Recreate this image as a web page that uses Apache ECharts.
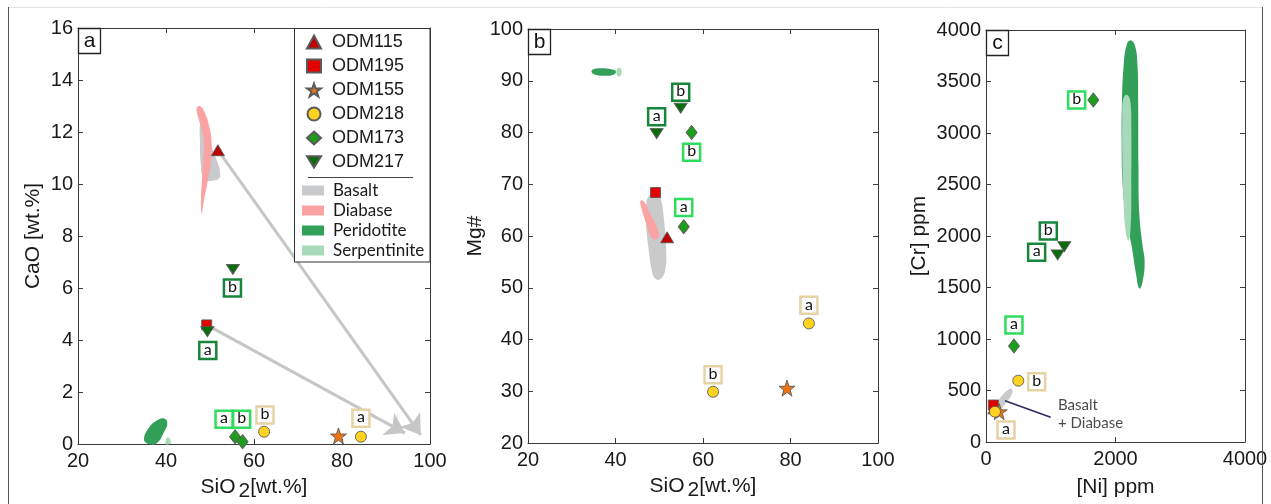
<!DOCTYPE html>
<html><head><meta charset="utf-8">
<script src="https://cdn.jsdelivr.net/npm/echarts@6/dist/echarts.min.js"></script>
<style>html,body{margin:0;padding:0;background:#fff}#c{width:1271px;height:504px}</style>
</head><body><div id="c"></div><script>
// ---------------- Panel a : SiO2 vs CaO ----------------
const a_ODM115 = [[51.8, 11.3]];
const a_ODM195 = [[49.25, 4.58]];
const a_ODM155 = [[79.2, 0.31]];
const a_ODM218 = [[62.3, 0.47], [84.3, 0.28]];
const a_ODM173 = [[55.7, 0.28], [57.4, 0.09]];
const a_ODM217 = [[49.4, 4.32], [55.2, 6.72]];
const a_tag217 = [[49.5, 3.6, 'a'], [55.1, 6.0, 'b']];
const a_tag173 = [[53.2, 0.95, 'a'], [57.2, 0.95, 'b']];
const a_tag218 = [[84.3, 0.99, 'a'], [62.5, 1.12, 'b']];
const a_arrows = [[[51.8, 11.3], [97.9, 0.35]], [[49.25, 4.58], [94.3, 0.42]]];
const a_basalt = [[47.88,12.4],[48.86,12.33],[50.0,11.69],[50.76,11.24],[51.67,10.86],[52.27,10.47],[52.1,10.22],[50.76,10.13],[49.25,10.13],[48.33,10.28],[47.88,10.8],[47.73,11.56]];
const a_diabase = [[46.97,12.91],[47.73,13.0],[48.86,12.72],[49.85,12.2],[50.38,11.56],[50.15,10.8],[49.39,10.03],[48.64,9.38],[48.11,8.87],[47.95,9.38],[48.18,10.15],[48.49,10.92],[48.64,11.56],[48.18,12.08],[47.35,12.53]];
const a_peridotite = [[35.0,0.18],[36.0,0.6],[37.9,0.9],[39.4,0.99],[40.3,0.82],[39.4,0.41],[37.9,0.03],[36.0,0.0]];
const a_serpentinite = [[39.9,0.0],[40.0,0.15],[40.4,0.25],[40.9,0.2],[41.1,0.05],[41.0,0.0]];

// ---------------- Panel b : SiO2 vs Mg# ----------------
const b_ODM115 = [[51.8, 59.75]];
const b_ODM195 = [[49.15, 68.4]];
const b_ODM155 = [[79.2, 30.6]];
const b_ODM218 = [[84.2, 43.1], [62.3, 29.9]];
const b_ODM173 = [[57.4, 80.0], [55.6, 61.8]];
const b_ODM217 = [[49.4, 79.8], [54.9, 84.7]];
const b_tag217 = [[49.4, 83.05, 'a'], [54.9, 87.8, 'b']];
const b_tag173 = [[55.6, 65.5, 'a'], [57.4, 76.2, 'b']];
const b_tag218 = [[84.2, 46.6, 'a'], [62.3, 33.2, 'b']];
const b_basalt = [[47.73,67.92],[49.41,68.56],[50.4,66.96],[51.09,63.09],[51.54,57.93],[51.38,53.43],[50.17,51.63],[49.03,51.82],[48.27,53.43],[47.5,57.93],[46.97,62.45],[46.97,65.66]];
const b_diabase = [[45.76,66.83],[46.51,66.63],[47.89,64.38],[49.26,62.13],[49.87,60.52],[49.56,59.49],[48.65,59.36],[47.73,60.52],[46.74,63.09],[45.83,65.66]];
const b_peridotite = [[34.5,91.8],[35.3,92.3],[37.0,92.4],[39.0,92.2],[40.1,91.8],[39.5,91.15],[37.5,90.95],[35.4,91.15]];
const b_serpentinite = [[40.2,91.7],[40.5,92.4],[41.0,92.5],[41.4,91.8],[41.1,90.9],[40.5,90.9]];

// ---------------- Panel c : Ni vs Cr ----------------
const c_ODM115 = [[128, 327]];
const c_ODM195 = [[113, 359]];
const c_ODM155 = [[205, 294]];
const c_ODM218 = [[139, 294], [499, 595]];
const c_ODM173 = [[432, 932], [1657, 3321]];
const c_ODM217 = [[1107, 1816], [1209, 1896]];
const c_tag217 = [[782, 1842, 'a'], [962, 2049, 'b']];
const c_tag173 = [[432, 1136, 'a'], [1400, 3321, 'b']];
const c_tag218 = [[309, 117, 'a'], [782, 585, 'b']];
const c_basalt = [[124,350],[216,427],[340,505],[401,515],[401,466],[293,369],[201,301],[139,301]];
const c_peridotite = [[2230,3900],[2300,3850],[2340,3650],[2350,3300],[2355,2700],[2370,2200],[2420,1900],[2450,1750],[2420,1560],[2370,1490],[2320,1620],[2250,1900],[2160,2200],[2110,2500],[2095,2900],[2100,3300],[2125,3650],[2170,3850]];
const c_serpentinite = [[2120,3330],[2180,3370],[2230,3300],[2245,3000],[2245,2500],[2235,2100],[2200,1960],[2155,2050],[2120,2400],[2105,2800],[2105,3150]];
const c_leader = [[293, 401], [999, 240]];
const c_note = [[1112, 267, 'Basalt\n+ Diabase']];

// ---------------- Axes / labels ----------------
const panelLetters = ['a', 'b', 'c'];
const xRanges = [[20, 100, 20], [20, 100, 20], [0, 4000, 2000]];
const yRanges = [[0, 16, 2], [20, 100, 10], [0, 4000, 500]];
const yNames = ['CaO [wt.%]', 'Mg#', '[Cr] ppm'];
const xNames = ['{t|SiO}{s|2}{t|[wt.%]}', '{t|SiO}{s|2}{t|[wt.%]}', '[Ni] ppm'];
const markerNames = ['ODM115', 'ODM195', 'ODM155', 'ODM218', 'ODM173', 'ODM217'];
const fieldNames = ['Basalt', 'Diabase', 'Peridotite', 'Serpentinite'];

const FONT = '"Liberation Sans", Arial, Helvetica, sans-serif';
const HUM = 'Lato, "Open Sans", sans-serif';
const AX = '#3a3a3a';
const TXT = '#1a1a1a';

const grids = [
  { left: 78, top: 28, width: 352, height: 416, outerBoundsMode: 'none', containLabel: false },
  { left: 528, top: 29, width: 350, height: 414, outerBoundsMode: 'none', containLabel: false },
  { left: 986, top: 30, width: 259, height: 412, outerBoundsMode: 'none', containLabel: false }
];
const yGaps = [34, 38, 56];
const xGaps = [33, 33, 35];

const STAR = 'path://M50,2 L61.8,36.2 L97.6,36.2 L68.6,57.3 L79.6,91.5 L50,70.4 L20.4,91.5 L31.4,57.3 L2.4,36.2 L38.2,36.2 Z';
const DOWN = 'path://M0,0 L26,0 L13,21 Z';
const markerStyle = {
  ODM115: { symbol: 'triangle', size: [13, 11], color: '#c00000' },
  ODM195: { symbol: 'rect', size: [10, 10], color: '#e40000' },
  ODM155: { symbol: STAR, size: [16, 16], color: '#ee7412' },
  ODM218: { symbol: 'circle', size: [11, 11], color: '#ffd31e' },
  ODM173: { symbol: 'diamond', size: [11, 14], color: '#1c9e1c' },
  ODM217: { symbol: DOWN, size: [13, 10], color: '#0b6c0b' }
};
const fieldColor = { Basalt: '#c9cacc', Diabase: '#fba3a3', Peridotite: '#33a05a', Serpentinite: '#a8d9b8' };
const tagColor = { t217: '#17853a', t173: '#2fdc5e', t218: '#e6d3a5' };

const xAxes = [], yAxes = [];
grids.forEach((g, i) => {
  const xr = xRanges[i], yr = yRanges[i];
  const common = {
    gridIndex: i, type: 'value', splitLine: { show: false },
    axisLine: { show: true, onZero: false, lineStyle: { color: AX, width: 1 } },
    axisTick: { show: true, inside: true, length: 5, lineStyle: { color: AX } }
  };
  xAxes.push(Object.assign({}, common, {
    min: xr[0], max: xr[1], interval: xr[2], position: 'bottom',
    name: xNames[i], nameLocation: 'middle', nameGap: xGaps[i],
    nameTextStyle: { fontSize: 21, fontFamily: FONT, color: TXT,
      rich: { t: { fontSize: 21, fontFamily: FONT, color: TXT, lineHeight: 21, verticalAlign: 'top' },
              s: { fontSize: 21, fontFamily: FONT, color: TXT, lineHeight: 25, padding: [0, 0, 0, 3], verticalAlign: 'bottom' } } },
    axisLabel: { color: TXT, fontSize: 20, fontFamily: FONT, margin: 7, formatter: v => String(v) }
  }));
  xAxes.push(Object.assign({}, common, {
    min: xr[0], max: xr[1], interval: xr[2], position: 'top', axisLabel: { show: false }
  }));
  yAxes.push(Object.assign({}, common, {
    min: yr[0], max: yr[1], interval: yr[2], position: 'left',
    name: yNames[i], nameLocation: 'middle', nameGap: yGaps[i], nameRotate: 90,
    nameTextStyle: { fontSize: 21, fontFamily: FONT, color: TXT },
    axisLabel: { color: TXT, fontSize: 20, fontFamily: FONT, margin: 5, formatter: v => String(v) }
  }));
  yAxes.push(Object.assign({}, common, {
    min: yr[0], max: yr[1], interval: yr[2], position: 'right', axisLabel: { show: false }
  }));
});

function fieldSeries(gi, name, pts) {
  return {
    type: 'custom', name: name, xAxisIndex: 2 * gi, yAxisIndex: 2 * gi, silent: true, z: 1,
    itemStyle: { color: fieldColor[name] },
    data: pts, encode: { x: 0, y: 1 },
    renderItem: (params, api) => {
      if (params.dataIndex !== 0) return null;
      return { type: 'polygon', shape: { points: pts.map(p => api.coord(p)), smooth: 0.45 },
               style: { fill: fieldColor[name] } };
    }
  };
}
function markerSeries(gi, name, data) {
  const s = markerStyle[name];
  return {
    type: 'scatter', name: name, xAxisIndex: 2 * gi, yAxisIndex: 2 * gi, z: 5,
    symbol: s.symbol, symbolSize: s.size, data: data,
    itemStyle: { color: s.color, borderColor: '#5a5a5a', borderWidth: 0.9, opacity: 1 }
  };
}
function tagSeries(gi, key, data) {
  return {
    type: 'scatter', name: 'tag' + key, xAxisIndex: 2 * gi, yAxisIndex: 2 * gi, z: 6, silent: true,
    symbol: 'rect', symbolSize: 17, data: data,
    itemStyle: { color: '#fff', borderColor: tagColor[key], borderWidth: 2.5, opacity: 1 },
    label: { show: true, position: 'inside', formatter: p => p.data[2],
             fontSize: 16, fontFamily: HUM, color: '#111', offset: [0, -1] }
  };
}

const panelSets = [
  { m: [a_ODM115, a_ODM195, a_ODM155, a_ODM218, a_ODM173, a_ODM217], f: [a_basalt, a_diabase, a_peridotite, a_serpentinite], t: [a_tag217, a_tag173, a_tag218] },
  { m: [b_ODM115, b_ODM195, b_ODM155, b_ODM218, b_ODM173, b_ODM217], f: [b_basalt, b_diabase, b_peridotite, b_serpentinite], t: [b_tag217, b_tag173, b_tag218] },
  { m: [c_ODM115, c_ODM195, c_ODM155, c_ODM218, c_ODM173, c_ODM217], f: [c_basalt, null, c_peridotite, c_serpentinite], t: [c_tag217, c_tag173, c_tag218] }
];

const series = [];
panelSets.forEach((ps, gi) => {
  ps.f.forEach((pts, k) => { if (pts) series.push(fieldSeries(gi, fieldNames[k], pts)); });
});
series.push({
  type: 'lines', name: 'arrows', coordinateSystem: 'cartesian2d', xAxisIndex: 0, yAxisIndex: 0,
  silent: true, z: 3, data: a_arrows.map(c => ({ coords: c })),
  symbol: ['none', 'arrow'], symbolSize: [16, 19],
  lineStyle: { color: '#c6c6c6', width: 3, opacity: 1 }
});
series.push({
  type: 'line', name: 'leader', xAxisIndex: 4, yAxisIndex: 4, data: c_leader, silent: true, z: 3,
  symbol: 'none', lineStyle: { color: '#2c2a5e', width: 1.5 }
});
series.push({
  type: 'scatter', name: 'note', xAxisIndex: 4, yAxisIndex: 4, data: c_note, silent: true, z: 3,
  symbolSize: 0,
  label: { show: true, position: 'right', distance: 0, formatter: p => p.data[2], align: 'left',
           fontSize: 15, lineHeight: 18, fontFamily: HUM, color: '#1a1a1a' }
});
panelSets.forEach((ps, gi) => {
  ps.m.forEach((d, k) => series.push(markerSeries(gi, markerNames[k], d)));
  series.push(tagSeries(gi, 't217', ps.t[0]));
  series.push(tagSeries(gi, 't173', ps.t[1]));
  series.push(tagSeries(gi, 't218', ps.t[2]));
});

const graphics = [
  { type: 'line', shape: { x1: 8, y1: 7.5, x2: 1262, y2: 7.5 }, style: { stroke: '#e4e4e4', lineWidth: 1 }, z: 1 },
  { type: 'line', shape: { x1: 8.5, y1: 7, x2: 8.5, y2: 504 }, style: { stroke: '#555', lineWidth: 1 }, z: 1 },
  { type: 'line', shape: { x1: 1262.5, y1: 7, x2: 1262.5, y2: 504 }, style: { stroke: '#555', lineWidth: 1 }, z: 1 },
  { type: 'rect', shape: { x: 294.5, y: 28.5, width: 135.5, height: 233.5 }, style: { fill: '#fff', stroke: '#333', lineWidth: 1 }, z: 20 },
  { type: 'line', shape: { x1: 308, y1: 177.5, x2: 413, y2: 177.5 }, style: { stroke: '#444', lineWidth: 1 }, z: 21 }
];
grids.forEach((g, i) => {
  graphics.push({ type: 'rect', shape: { x: g.left + 0.5, y: g.top + 0.5, width: 22, height: 25 },
                  style: { fill: '#fff', stroke: '#222', lineWidth: 1.3 }, z: 22 });
  graphics.push({ type: 'text', x: g.left + 11.5, y: g.top + 13, z: 23,
                  style: { text: panelLetters[i], fontSize: 21, fontFamily: FONT, fill: '#111', align: 'center', verticalAlign: 'middle' } });
});

const chart = echarts.init(document.getElementById('c'), null, { renderer: 'canvas' });
chart.setOption({
  animation: false,
  backgroundColor: '#fff',
  grid: grids,
  xAxis: xAxes,
  yAxis: yAxes,
  legend: [
    { data: markerNames, orient: 'vertical', left: 306, top: 33, padding: 0, itemWidth: 14, itemHeight: 13, itemGap: 6,
      selectedMode: false, z: 30,
      textStyle: { fontSize: 18, fontFamily: FONT, color: TXT, lineHeight: 18, padding: [0, 0, 0, 6] } },
    { data: fieldNames.map(n => ({ name: n, icon: 'rect' })), orient: 'vertical', left: 302, top: 182, padding: 0,
      itemWidth: 22, itemHeight: 10, itemGap: 3, selectedMode: false, z: 30,
      textStyle: { fontSize: 17, fontFamily: HUM, color: TXT, lineHeight: 17, padding: [0, 0, 0, 4] } }
  ],
  graphic: { elements: graphics },
  series: series
});
</script></body></html>
